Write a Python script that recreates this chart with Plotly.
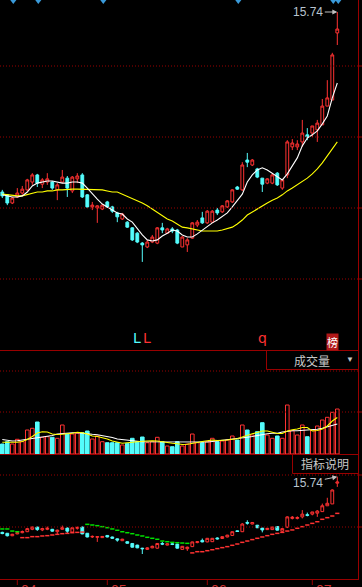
import plotly.graph_objects as go

W, H = 362, 587

# ---------------- data ----------------
opens = [10.67, 10.59, 10.36, 10.53, 10.64, 10.73, 10.95, 11.15, 10.89, 10.95,
         10.95, 10.73, 10.95, 11.06, 10.70, 11.04, 11.15, 10.59, 10.25, 10.22,
         10.19, 10.39, 10.25, 10.08, 9.91, 9.82, 9.66, 9.51, 9.23, 9.12,
         9.26, 9.23, 9.66, 9.51, 9.63, 9.60, 9.12, 9.18, 9.37, 9.74,
         9.94, 9.80, 9.82, 10.16, 10.11, 10.25, 10.39, 10.81, 10.73, 11.57,
         11.43, 11.32, 11.06, 10.92, 10.92, 11.20, 10.78, 11.15, 11.94, 11.94,
         12.08, 12.28, 12.33, 12.42, 12.56, 13.09, 13.26, 15.15]
closes = [10.56, 10.36, 10.50, 10.64, 10.75, 11.01, 11.15, 10.92, 11.01, 11.04,
          10.78, 10.87, 11.09, 10.78, 11.09, 11.12, 10.53, 10.25, 10.30, 10.28,
          10.30, 10.25, 10.13, 9.97, 10.05, 9.68, 9.32, 9.26, 9.18, 9.26,
          9.40, 9.66, 9.60, 9.63, 9.57, 9.23, 9.40, 9.32, 9.80, 9.82,
          9.80, 10.13, 10.13, 10.08, 10.28, 10.42, 10.73, 10.75, 11.43, 11.51,
          11.57, 11.09, 10.89, 11.04, 11.15, 10.87, 11.01, 12.08, 12.05, 12.02,
          12.33, 12.22, 12.53, 12.61, 13.09, 13.32, 14.53, 15.26]
highs = [10.73, 10.61, 10.53, 10.78, 10.84, 11.04, 11.20, 11.18, 11.06, 11.20,
         10.98, 10.92, 11.29, 11.12, 11.12, 11.20, 11.20, 10.61, 10.39, 10.30,
         10.33, 10.42, 10.28, 10.11, 10.08, 9.85, 9.68, 9.54, 9.26, 9.32,
         9.46, 9.68, 9.80, 9.66, 9.68, 9.63, 9.43, 9.37, 9.82, 9.88,
         10.11, 10.16, 10.16, 10.22, 10.30, 10.44, 10.75, 10.84, 11.51, 11.77,
         11.60, 11.35, 11.06, 11.06, 11.18, 11.23, 11.04, 12.13, 12.16, 12.13,
         12.70, 12.47, 12.53, 12.70, 13.29, 13.82, 14.59, 15.74]
lows = [10.50, 10.30, 10.33, 10.50, 10.59, 10.70, 10.87, 10.81, 10.78, 10.87,
        10.73, 10.44, 10.92, 10.53, 10.64, 10.92, 10.50, 10.22, 10.16, 9.80,
        10.16, 10.22, 10.08, 9.82, 9.88, 9.66, 9.29, 9.23, 8.70, 9.09,
        9.23, 9.20, 9.51, 9.49, 9.51, 9.20, 9.12, 8.98, 9.35, 9.68,
        9.77, 9.77, 9.80, 10.02, 10.08, 10.22, 10.36, 10.73, 10.70, 11.37,
        11.40, 11.06, 10.67, 10.89, 10.89, 10.84, 10.73, 11.06, 11.85, 11.85,
        11.94, 12.13, 12.22, 12.08, 12.56, 13.09, 13.26, 14.81]
ma_short = [10.59, 10.56, 10.53, 10.53, 10.56, 10.67, 10.84, 10.92, 10.95, 10.98,
            10.98, 10.95, 10.92, 10.92, 10.95, 10.95, 10.92, 10.78, 10.61, 10.47,
            10.33, 10.25, 10.16, 10.08, 10.05, 9.91, 9.82, 9.63, 9.46, 9.32,
            9.29, 9.32, 9.43, 9.51, 9.60, 9.57, 9.46, 9.40, 9.40, 9.49,
            9.60, 9.71, 9.80, 9.88, 9.99, 10.08, 10.25, 10.42, 10.61, 10.95,
            11.15, 11.29, 11.35, 11.29, 11.20, 11.09, 11.01, 11.18, 11.40, 11.63,
            11.97, 12.19, 12.28, 12.39, 12.59, 12.81, 13.32, 13.74]
ma_long = [10.61, 10.59, 10.59, 10.56, 10.56, 10.59, 10.64, 10.67, 10.67, 10.70,
           10.70, 10.73, 10.73, 10.75, 10.75, 10.75, 10.75, 10.75, 10.73, 10.73,
           10.73, 10.70, 10.67, 10.67, 10.61, 10.56, 10.50, 10.44, 10.36, 10.28,
           10.19, 10.08, 9.99, 9.91, 9.85, 9.77, 9.68, 9.66, 9.63, 9.60,
           9.57, 9.57, 9.57, 9.57, 9.60, 9.63, 9.68, 9.77, 9.88, 10.02,
           10.11, 10.19, 10.28, 10.36, 10.44, 10.50, 10.59, 10.70, 10.78, 10.87,
           10.98, 11.06, 11.18, 11.32, 11.49, 11.68, 11.88, 12.08]
volume = [10000, 12300, 10000, 14700, 12300, 24000, 25700, 32000, 16700, 17300,
          16700, 15700, 29000, 20000, 20000, 20700, 21300, 23000, 15000, 18000,
          12300, 11300, 11300, 11300, 9000, 10700, 15700, 12300, 17000, 11300,
          12300, 16700, 12300, 8000, 7300, 12300, 8000, 10000, 20000, 11300,
          11300, 12300, 15700, 12300, 13000, 14000, 18000, 14000, 29000, 24000,
          19000, 22300, 31300, 19000, 15700, 18000, 15700, 49000, 23300, 19000,
          29000, 17300, 24000, 28000, 34000, 36700, 41700, 45000]
vol_ma_white = [14500, 13500, 13000, 13300, 14000, 15000, 16000, 16700, 17000, 17500,
                18500, 20000, 20500, 21300, 21300, 21300, 21000, 20300, 19700, 19300,
                18500, 18000, 16500, 15000, 14300, 13700, 13300, 12800, 12300, 12300,
                12300, 12300, 12300, 12300, 12000, 11700, 11700, 11700, 11700, 11700,
                11800, 12000, 12500, 13000, 13800, 14500, 15000, 15500, 16200, 16700,
                17500, 18500, 19500, 20300, 20700, 20700, 22000, 23000, 23300, 23300,
                23500, 23800, 24200, 24800, 25700, 27000, 29000, 30000]
vol_ma_yellow = [11700, 11700, 11700, 11700, 12500, 14500, 17500, 21000, 22300, 22000,
                 20000, 19500, 19800, 20000, 20800, 21700, 21300, 20000, 18000, 17500,
                 16500, 15000, 13000, 11500, 10700, 11200, 12000, 12300, 12800, 13300,
                 13200, 13000, 12000, 11200, 10700, 10300, 9500, 9800, 11000, 11500,
                 12500, 13500, 14000, 13500, 13600, 14000, 14800, 15200, 17000, 19000,
                 20300, 21500, 23000, 23000, 21500, 20500, 20500, 23000, 24300, 25000,
                 26500, 26500, 23000, 23500, 25000, 28000, 33000, 36500]
sar = [10.98, 10.98, 10.79, 10.73,
       10.19, 10.19, 10.28, 10.28, 10.34, 10.37, 10.43, 10.49, 10.55, 10.58, 10.64, 10.67, 10.70,
       11.40, 11.34, 11.28, 11.19, 11.10, 10.98, 10.86, 10.73, 10.64, 10.55, 10.43, 10.34,
       10.22, 10.13, 10.04, 9.88, 9.82, 9.76, 9.73, 9.70, 9.67,
       8.80, 8.91, 8.91, 9.00, 9.09, 9.19, 9.28, 9.37, 9.49, 9.61, 9.76, 9.88, 10.01, 10.13,
       10.25, 10.37, 10.49, 10.58, 10.67, 10.79, 10.89, 11.04, 11.19, 11.34, 11.49, 11.64,
       11.86, 12.01, 12.16, 12.40]
sar_up = [0] * 4 + [1] * 13 + [0] * 21 + [1] * 30
signal_idx = [2, 7, 20, 47, 66, 67]
month_labels = ["04", "05", "06", "07"]
month_start_idx = [3, 21, 41, 62]
marks = [("L", 27, "#54fcfc"), ("L", 29, "#ff3232"), ("q", 52, "#ff3232")]
rank_idx = 66
peak_label = "15.74"

n = len(closes)
x = list(range(n))

UP = "#ff3232"
DN = "#54fcfc"
GRID = "#990000"
TXT = "#c8c8c8"


def py(p):
    return 1 - p / H


def px(p):
    return p / W


fig = go.Figure()

cs = dict(increasing=dict(line=dict(color=UP, width=1), fillcolor="#000000"),
          decreasing=dict(line=dict(color=DN, width=1), fillcolor=DN),
          whiskerwidth=0, hoverinfo="skip", showlegend=False)
fig.add_trace(go.Candlestick(x=x, open=opens, high=highs, low=lows, close=closes,
                             xaxis="x", yaxis="y", **cs))
fig.add_trace(go.Scatter(x=x, y=ma_long, mode="lines", line=dict(color="#ffff00", width=1.1),
                         xaxis="x", yaxis="y", hoverinfo="skip"))
fig.add_trace(go.Scatter(x=x, y=ma_short, mode="lines", line=dict(color="#ffffff", width=1.1),
                         xaxis="x", yaxis="y", hoverinfo="skip"))
fig.add_trace(go.Scatter(x=[i + 0.2 for i in signal_idx], y=[16.078] * len(signal_idx),
                         mode="markers", cliponaxis=False,
                         marker=dict(symbol="triangle-down", size=8, color="#3a9ad9"),
                         xaxis="x", yaxis="y", hoverinfo="skip"))

# volume
vcol = [UP if c >= o else DN for o, c in zip(opens, closes)]
vfill = ["#000000" if c >= o else DN for o, c in zip(opens, closes)]
fig.add_trace(go.Bar(x=x, y=volume, width=0.72, marker=dict(color=vfill, line=dict(color=vcol, width=1)),
                     xaxis="x", yaxis="y2", hoverinfo="skip"))
fig.add_trace(go.Scatter(x=x, y=vol_ma_white, mode="lines", line=dict(color="#ffffff", width=1.1),
                         xaxis="x", yaxis="y2", hoverinfo="skip"))
fig.add_trace(go.Scatter(x=x, y=vol_ma_yellow, mode="lines", line=dict(color="#ffff00", width=1.1),
                         xaxis="x", yaxis="y2", hoverinfo="skip"))

# bottom indicator: mini candles + SAR
fig.add_trace(go.Candlestick(x=x, open=opens, high=highs, low=lows, close=closes,
                             xaxis="x", yaxis="y3", **cs))
sar_r = [s if u else None for s, u in zip(sar, sar_up)]
sar_g = [None if u else s for s, u in zip(sar, sar_up)]
fig.add_trace(go.Scatter(x=x, y=sar_r, mode="markers",
                         marker=dict(symbol="line-ew", size=3, line=dict(color=UP, width=1.5)),
                         xaxis="x", yaxis="y3", hoverinfo="skip"))
fig.add_trace(go.Scatter(x=x, y=sar_g, mode="markers",
                         marker=dict(symbol="line-ew", size=3, line=dict(color="#00e000", width=1.5)),
                         xaxis="x", yaxis="y3", hoverinfo="skip"))

shapes = []
for yy in [66, 137, 208, 279, 371, 412, 475, 527]:
    shapes.append(dict(type="line", xref="paper", yref="paper", x0=0, x1=px(358),
                       y0=py(yy), y1=py(yy), line=dict(color=GRID, width=1, dash="1px,2px")))
for yy in [350.5, 454.5, 579.5]:
    shapes.append(dict(type="line", xref="paper", yref="paper", x0=0, x1=px(358.5),
                       y0=py(yy), y1=py(yy), line=dict(color=GRID, width=1)))
shapes.append(dict(type="line", xref="paper", yref="paper", x0=px(358.5), x1=px(358.5),
                   y0=py(0), y1=py(580), line=dict(color=GRID, width=1)))
for yy in [66, 137, 208, 279, 412, 475, 527]:
    shapes.append(dict(type="line", xref="paper", yref="paper", x0=px(359), x1=px(362),
                       y0=py(yy), y1=py(yy), line=dict(color=GRID, width=1)))
shapes.append(dict(type="rect", xref="paper", yref="paper", x0=px(266.5), x1=px(358.5),
                   y0=py(369.5), y1=py(350.5), line=dict(color=GRID, width=1)))
shapes.append(dict(type="rect", xref="paper", yref="paper", x0=px(292.5), x1=px(358.5),
                   y0=py(473.5), y1=py(454.5), line=dict(color=GRID, width=1)))
for mi in month_start_idx:
    shapes.append(dict(type="line", xref="x", yref="paper", x0=mi, x1=mi,
                       y0=py(579.5), y1=py(585), line=dict(color=GRID, width=1)))

ann = []
for lab, mi in zip(month_labels, month_start_idx):
    ann.append(dict(x=mi + 0.3, xref="x", y=py(580), yref="paper", text=lab, showarrow=False,
                    xanchor="left", yanchor="top", font=dict(size=14, color="#d03030",
                                                             family="Liberation Sans")))
for t, i, c in marks:
    ann.append(dict(x=i, xref="x", y=py(348), yref="paper", text=t, showarrow=False,
                    xanchor="center", yanchor="bottom",
                    font=dict(size=14, color=c, family="DejaVu Sans")))
ann.append(dict(x=rank_idx, xref="x", y=py(342), yref="paper", text="榜", showarrow=False,
                xanchor="center", yanchor="middle",
                bgcolor="#b01818", borderpad=0, font=dict(size=11, color="#ffffff",
                                                          family="Noto Sans CJK SC")))
ann.append(dict(x=px(312), xref="paper", y=py(360), yref="paper", text="成交量", showarrow=False,
                xanchor="center", yanchor="middle",
                font=dict(size=12, color=TXT, family="Noto Sans CJK SC")))
ann.append(dict(x=px(350), xref="paper", y=py(358), yref="paper", text="▼", showarrow=False,
                xanchor="center", yanchor="middle", font=dict(size=8, color=TXT)))
ann.append(dict(x=px(325), xref="paper", y=py(464), yref="paper", text="指标说明", showarrow=False,
                xanchor="center", yanchor="middle",
                font=dict(size=12, color=TXT, family="Noto Sans CJK SC")))
top_i = highs.index(max(highs))
ann.append(dict(x=top_i, y=max(highs), xref="x", yref="y", text=peak_label, showarrow=True,
                ax=-29, ay=0, arrowhead=2, arrowsize=1, arrowwidth=1, arrowcolor="#c0c0c0",
                font=dict(size=12, color="#b8c4d0", family="Liberation Sans")))
ann.append(dict(x=top_i, y=max(highs), xref="x", yref="y3", text=peak_label, showarrow=True,
                ax=-29, ay=6, arrowhead=2, arrowsize=1, arrowwidth=1, arrowcolor="#c0c0c0",
                font=dict(size=12, color="#b8c4d0", family="Liberation Sans")))

fig.update_layout(
    width=W, height=H, margin=dict(l=0, r=0, t=0, b=0),
    paper_bgcolor="#000000", plot_bgcolor="#000000", showlegend=False,
    hovermode=False, boxgap=0.2, barmode="overlay",
    xaxis=dict(domain=[0, 1], range=[-0.46, 71.94], visible=False, rangeslider=dict(visible=False),
               fixedrange=True),
    yaxis=dict(domain=[py(350), 1], range=[6.219, 16.078], visible=False, fixedrange=True),
    yaxis2=dict(domain=[py(454), py(350)], range=[0, 104000], visible=False, fixedrange=True),
    yaxis3=dict(domain=[py(579), py(455)], range=[6.423, 17.716], visible=False, fixedrange=True),
    shapes=shapes, annotations=ann,
)

fig.write_html("out.html", config={"displayModeBar": False},
               post_script="document.body.style.margin='0';document.body.style.background='#000';")
